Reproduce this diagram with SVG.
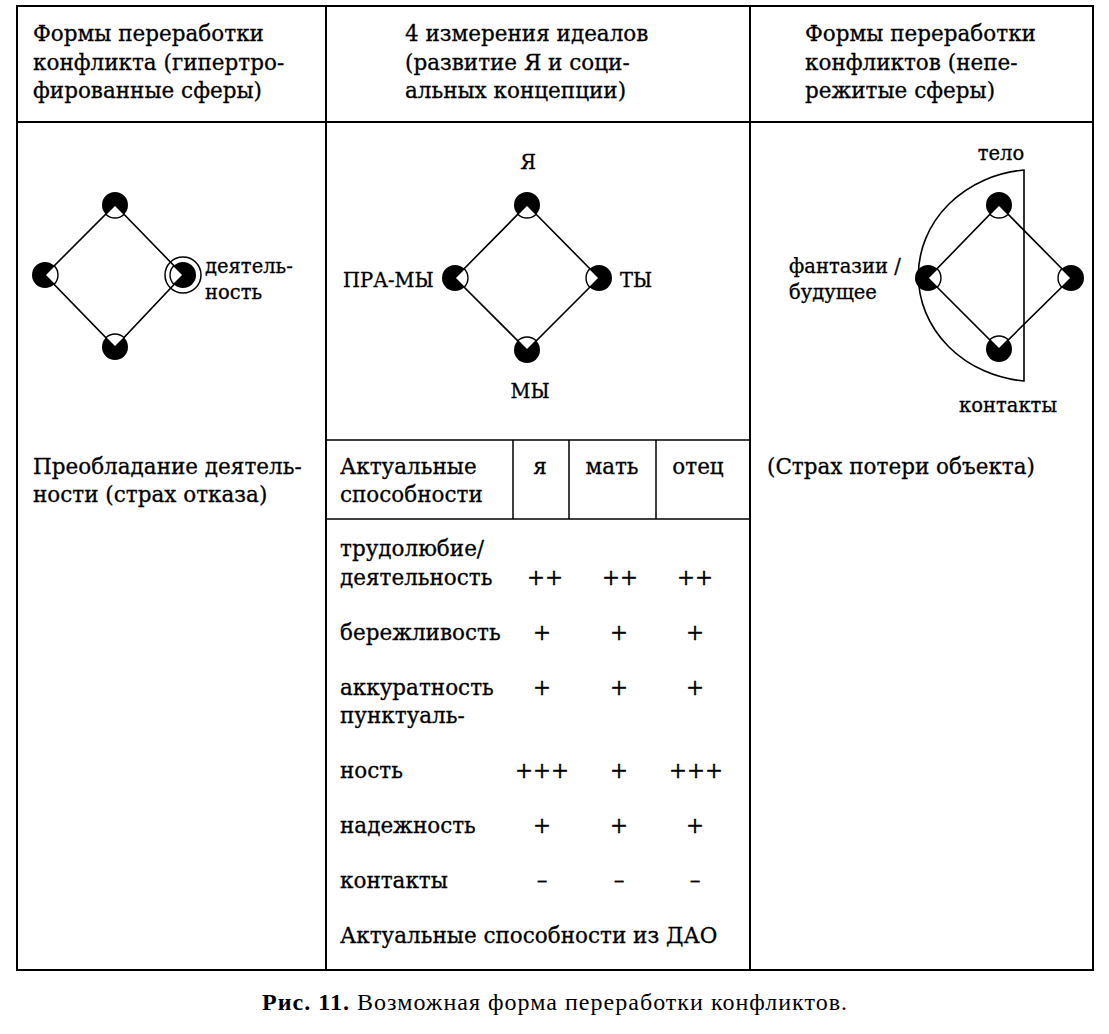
<svg xmlns="http://www.w3.org/2000/svg" width="1109" height="1034" viewBox="0 0 1109 1034">
<style>
.frame{fill:none;stroke:#000;stroke-width:2}
.inner{fill:none;stroke:#000;stroke-width:1.5}
.t{font-family:"DejaVu Serif","Liberation Serif",serif;font-size:21.5px;fill:#000;stroke:#000;stroke-width:0.3}
.lb{font-family:"DejaVu Serif","Liberation Serif",serif;font-size:19.5px;fill:#000;stroke:#000;stroke-width:0.3}
.mid{text-anchor:middle}
.edge{stroke:#000;stroke-width:1.6;fill:none}
.cap{font-family:"Liberation Serif",serif;font-size:24px;fill:#000}
</style>
<defs>
<g id="nd">
<circle r="13" fill="#000"/>
<path d="M0,0 L-9.19,9.19 A13,13 0 0 0 9.19,9.19 Z" fill="#fff" stroke="#000" stroke-width="1.4"/>
</g>
</defs>
<rect id="bg" x="0" y="0" width="1109" height="1034" fill="#fff"/>
<g id="table">
<rect class="frame" x="17" y="6" width="1076" height="964"/>
<line class="frame" x1="17" y1="122" x2="1093" y2="122"/>
<line class="frame" x1="326" y1="6" x2="326" y2="970"/>
<line class="frame" x1="750" y1="6" x2="750" y2="970"/>
<line class="inner" x1="326" y1="440" x2="750" y2="440"/>
<line class="inner" x1="326" y1="519" x2="750" y2="519"/>
<line class="inner" x1="513" y1="440" x2="513" y2="519"/>
<line class="inner" x1="569" y1="440" x2="569" y2="519"/>
<line class="inner" x1="656" y1="440" x2="656" y2="519"/>
</g>
<g id="headers">
<text class="t" x="33" y="41">Формы переработки</text>
<text class="t" x="33" y="70">конфликта (гипертро-</text>
<text class="t" x="33" y="98">фированные сферы)</text>
<text class="t" x="405" y="41">4 измерения идеалов</text>
<text class="t" x="405" y="70">(развитие Я и соци-</text>
<text class="t" x="405" y="98">альных концепции)</text>
<text class="t" x="805" y="41">Формы переработки</text>
<text class="t" x="805" y="70">конфликтов (непе-</text>
<text class="t" x="805" y="98">режитые сферы)</text>
</g>
<g id="connectors">
<path class="edge" d="M115,205 L183,275 L115,347 L45,275 Z"/>
<path class="edge" d="M527,205 L599,278 L527,350 L455,278 Z"/>
<path class="edge" d="M999,205 L1071,278 L999,349 L928,278 Z"/>
<path class="edge" d="M1024,170 A117,106 0 0 0 1024,381 Z"/>
</g>
<g id="diagram-left">
<g id="L-top"><use href="#nd" transform="translate(115,205)"/></g>
<g id="L-left"><use href="#nd" transform="translate(45,275) rotate(-90)"/></g>
<g id="L-right"><use href="#nd" transform="translate(183,275) rotate(90)"/><circle cx="183" cy="275" r="18" fill="none" stroke="#000" stroke-width="1.5"/></g>
<g id="L-bottom"><use href="#nd" transform="translate(115,347) rotate(180)"/></g>
<text class="lb" x="205" y="273">деятель-</text>
<text class="lb" x="205" y="299">ность</text>
</g>
<g id="diagram-mid">
<g id="M-top"><use href="#nd" transform="translate(527,205)"/></g>
<g id="M-left"><use href="#nd" transform="translate(455,278) rotate(-90)"/></g>
<g id="M-right"><use href="#nd" transform="translate(599,278) rotate(90)"/></g>
<g id="M-bottom"><use href="#nd" transform="translate(527,350) rotate(180)"/></g>
<text class="lb mid" x="528" y="169">Я</text>
<text class="lb" x="343" y="287">ПРА-МЫ</text>
<text class="lb" x="620" y="287">ТЫ</text>
<text class="lb mid" x="530" y="398">МЫ</text>
</g>
<g id="diagram-right">
<g id="R-top"><use href="#nd" transform="translate(999,205)"/></g>
<g id="R-left"><use href="#nd" transform="translate(928,278) rotate(-90)"/></g>
<g id="R-right"><use href="#nd" transform="translate(1071,278) rotate(90)"/></g>
<g id="R-bottom"><use href="#nd" transform="translate(999,349) rotate(180)"/></g>
<text class="lb mid" x="1001" y="160">тело</text>
<text class="lb" x="789" y="273">фантазии /</text>
<text class="lb" x="789" y="299">будущее</text>
<text class="lb mid" x="1008" y="412">контакты</text>
</g>
<g id="bottom-texts">
<text class="t" x="33" y="474">Преобладание деятель-</text>
<text class="t" x="33" y="502">ности (страх отказа)</text>
<text class="t" x="767" y="474">(Страх потери объекта)</text>
</g>
<g id="abilities">
<text class="t" x="340" y="474">Актуальные</text>
<text class="t" x="340" y="502">способности</text>
<text class="t mid" x="540" y="474">я</text>
<text class="t mid" x="612" y="474">мать</text>
<text class="t mid" x="698" y="474">отец</text>
<text class="t" x="340" y="556">трудолюбие/</text>
<text class="t" x="340" y="585">деятельность</text>
<text class="t mid" x="545" y="585">++</text>
<text class="t mid" x="620" y="585">++</text>
<text class="t mid" x="695" y="585">++</text>
<text class="t" x="340" y="640">бережливость</text>
<text class="t mid" x="542" y="640">+</text>
<text class="t mid" x="619" y="640">+</text>
<text class="t mid" x="695" y="640">+</text>
<text class="t" x="340" y="695">аккуратность</text>
<text class="t mid" x="542" y="695">+</text>
<text class="t mid" x="619" y="695">+</text>
<text class="t mid" x="695" y="695">+</text>
<text class="t" x="340" y="723">пунктуаль-</text>
<text class="t" x="340" y="778">ность</text>
<text class="t mid" x="542" y="778">+++</text>
<text class="t mid" x="619" y="778">+</text>
<text class="t mid" x="696" y="778">+++</text>
<text class="t" x="340" y="833">надежность</text>
<text class="t mid" x="542" y="833">+</text>
<text class="t mid" x="619" y="833">+</text>
<text class="t mid" x="695" y="833">+</text>
<text class="t" x="340" y="888">контакты</text>
<text class="t mid" x="542" y="888">–</text>
<text class="t mid" x="619" y="888">–</text>
<text class="t mid" x="695" y="888">–</text>
<text class="t" x="340" y="943">Актуальные способности из ДАО</text>
</g>
<text class="cap" x="262" y="1010" textLength="585" lengthAdjust="spacing"><tspan font-weight="bold">Рис. 11.</tspan> Возможная форма переработки конфликтов.</text>
</svg>
